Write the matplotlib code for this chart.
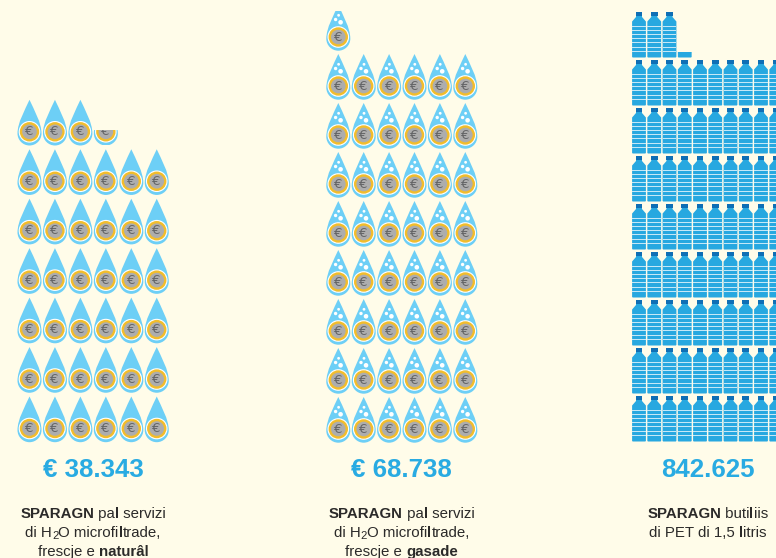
import numpy as np
import matplotlib
matplotlib.use("Agg")
import matplotlib.pyplot as plt
from matplotlib.path import Path
from matplotlib.patches import PathPatch, Circle, Rectangle

# icons drawn per panel (partial icon = fraction)
natural_icons = 39.33
gasade_icons = 48.87
bottle_icons = 83.125

totals = ["€ 38.343", "€ 68.738", "842.625"]
captions = [
    [[("SPARAGN", "bold"), (" pal servizi", "normal")],
     [("di H", "normal"), ("2", "sub"), ("O microfiltrade,", "normal")],
     [("frescje e ", "normal"), ("naturâl", "bold")]],
    [[("SPARAGN", "bold"), (" pal servizi", "normal")],
     [("di H", "normal"), ("2", "sub"), ("O microfiltrade,", "normal")],
     [("frescje e ", "normal"), ("gasade", "bold")]],
    [[("SPARAGN", "bold"), (" butiliis", "normal")],
     [("di PET di 1,5 litris", "normal")]],
]

BG = "#fffce9"
DROP = "#6dcff6"
BOTTLE = "#27a8e0"
CAP = "#0f6fb5"
TEXT = "#2b2a29"
FONT = "Liberation Sans"

fig = plt.figure(figsize=(7.76, 5.58), dpi=100, facecolor=BG)
ax = fig.add_axes([0, 0, 1, 1])
ax.set_xlim(0, 776)
ax.set_ylim(558, 0)
ax.axis("off")


def bottom_clip(bottom, top):
    return Rectangle((0, top), 776, bottom - top, transform=ax.transData)


def draw_drop(cx, cy, bubbles=False, frac=1.0):
    r = 12
    dy = cy + 1.7
    tip = cy - 32
    k = r * 0.55
    verts = [(cx, tip),
             (cx + 4.5, tip + 10), (cx + r, dy - 11), (cx + r, dy),
             (cx + r, dy + k), (cx + k, dy + r), (cx, dy + r),
             (cx - k, dy + r), (cx - r, dy + k), (cx - r, dy),
             (cx - r, dy - 11), (cx - 4.5, tip + 10), (cx, tip),
             (cx, tip)]
    codes = [Path.MOVETO] + [Path.CURVE4] * 12 + [Path.CLOSEPOLY]
    arts = [ax.add_patch(PathPatch(Path(verts, codes), fc=DROP, ec="none"))]
    arts.append(ax.add_patch(Circle((cx, cy), 10.8, fc="white", ec="none")))
    arts.append(ax.add_patch(Circle((cx, cy), 9.7, fc="#f2bd2c", ec="none")))
    arts.append(ax.add_patch(Circle((cx, cy), 7.3, fc="#adadad", ec="none")))
    arts.append(ax.text(cx - 0.3, cy + 0.2, "€", color="#636466", fontsize=9.5,
                        family="DejaVu Sans", ha="center", va="center"))
    if bubbles:
        for bx, by, br in [(0.3, -21.7, 1.4), (-2.7, -17.5, 1.7), (2.3, -14.7, 2.3)]:
            arts.append(ax.add_patch(Circle((cx + bx, cy + by), br, fc="white", ec="none")))
    if frac < 1:
        bottom = cy + 13.7
        clip = bottom_clip(bottom, bottom - frac * 45.7)
        for a in arts:
            a.set_clip_on(True)  # text is not clipped by default
            a.set_clip_path(clip)


def draw_bottle(cx, top, frac=1.0):
    w = 6.9
    bottom = top + 45.5
    verts = [(cx - 3, top + 4), (cx + 3, top + 4), (cx + 3, top + 5),
             (cx + w, top + 9.5), (cx + w, bottom - 0.6), (cx + w - 0.6, bottom),
             (cx - w + 0.6, bottom), (cx - w, bottom - 0.6), (cx - w, top + 9.5),
             (cx - 3, top + 5), (cx - 3, top + 4)]
    codes = [Path.MOVETO] + [Path.LINETO] * 9 + [Path.CLOSEPOLY]
    arts = [ax.add_patch(PathPatch(Path(verts, codes), fc=BOTTLE, ec="none"))]
    arts.append(ax.add_patch(Rectangle((cx - 3.3, top), 6.6, 4.3, fc=CAP, ec="none")))
    for i in range(7):
        arts.append(ax.add_patch(Rectangle((cx - w, top + 13.6 + i * 4.2), 2 * w, 0.9,
                                           fc="#c4e8f7", ec="none")))
    if frac < 1:
        clip = bottom_clip(bottom, bottom - frac * 45.5)
        for a in arts:
            a.set_clip_path(clip)


def icon_grid(count, ncols, x0, xstep, y0, ystep, draw, **kw):
    whole = int(count)
    for n in range(whole + 1):
        frac = 1.0 if n < whole else count - whole
        if frac <= 0:
            continue
        row, col = divmod(n, ncols)
        draw(x0 + col * xstep, y0 - row * ystep, frac=frac, **kw)


icon_grid(natural_icons, 6, 29.5, 25.45, 428.5, 49.45, draw_drop)
icon_grid(gasade_icons, 6, 338.3, 25.4, 429, 49, draw_drop, bubbles=True)
icon_grid(bottle_icons, 10, 639, 15.25, 396, 48, draw_bottle)

centres = [93.3, 401.8, 707.5]
renderer = fig.canvas.get_renderer()


def span_width(s, weight, size):
    probe = ax.text(0, 0, "|" + s + "|", family=FONT, weight=weight, fontsize=size)
    w1 = probe.get_window_extent(renderer).width
    probe.set_text("||")
    w2 = probe.get_window_extent(renderer).width
    probe.remove()
    return w1 - w2


def split_spans(line):
    # the regular face of the original sets every l in bold
    out = []
    for s, kind in line:
        if kind != "normal":
            out.append((s, kind))
            continue
        parts = s.split("l")
        for i, p in enumerate(parts):
            if p:
                out.append((p, "normal"))
            if i < len(parts) - 1:
                out.append(("l", "bold"))
    return out


def draw_line(cx, y, line, size=10.8):
    spans = split_spans(line)
    widths = []
    for s, kind in spans:
        if kind == "sub":
            widths.append(span_width(s, "normal", size * 0.75))
        else:
            widths.append(span_width(s, kind, size))
    x = cx - sum(widths) / 2
    for (s, kind), w in zip(spans, widths):
        if kind == "sub":
            ax.text(x, y + 2.5, s, family=FONT, fontsize=size * 0.75, color=TEXT,
                    ha="left", va="baseline")
        else:
            ax.text(x, y, s, family=FONT, weight=kind, fontsize=size, color=TEXT,
                    ha="left", va="baseline")
        x += w


for cx, total, caption in zip(centres, totals, captions):
    ax.text(cx, 477.3, total, family=FONT, weight="bold", fontsize=18.6, color="#29abe2",
            ha="center", va="baseline")
    for i, line in enumerate(caption):
        draw_line(cx, 517.7 + i * 19.2, line)

fig.savefig("out.png", dpi=100, facecolor=BG)
